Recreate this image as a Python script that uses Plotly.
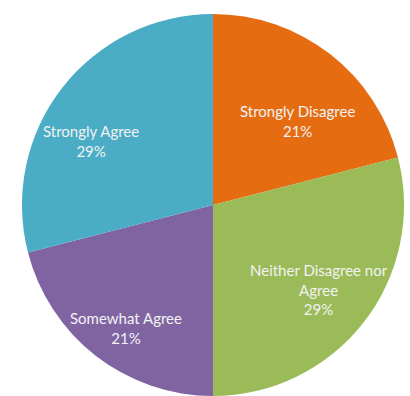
import plotly.graph_objects as go

# Survey responses, clockwise from 12 o'clock
categories = ["Strongly Disagree", "Neither Disagree nor Agree", "Somewhat Agree", "Strongly Agree"]
label_lines = ["Strongly Disagree", "Neither Disagree nor<br>Agree", "Somewhat Agree", "Strongly Agree"]
shares = [21, 29, 21, 29]
colors = ["#E66C12", "#9BBB59", "#8064A2", "#4BACC6"]

W, H = 410, 396
cx, cy, R = 213, 205, 191  # pie centre (px from left/top) and radius

# data-label centres (px from left/top), best-fit inside each slice
label_x = [297, 319, 126, 91]
label_y = [121, 289, 328, 141]


def clamp(v):
    return min(1.0, max(0.0, v))


fig = go.Figure(go.Pie(
    labels=categories,
    values=shares,
    sort=False,
    direction="clockwise",
    rotation=0,
    marker=dict(colors=colors, line=dict(width=0)),
    textinfo="none",
    hoverinfo="label+percent",
    showlegend=False,
    domain=dict(x=[clamp((cx - R) / W), clamp((cx + R) / W)],
                y=[clamp((H - cy - R) / H), clamp((H - cy + R) / H)]),
))

total = sum(shares)
annotations = []
for lab, v, lx, ly in zip(label_lines, shares, label_x, label_y):
    annotations.append(dict(
        x=lx / W, y=1 - ly / H, xref="paper", yref="paper",
        xanchor="center", yanchor="middle",
        text=f"{lab}<br>{round(v / total * 100)}%",
        showarrow=False, align="center",
        font=dict(family="Lato, Open Sans, sans-serif", size=15, color="#F2F2F2"),
    ))

fig.update_layout(
    width=W, height=H,
    margin=dict(l=0, r=0, t=0, b=0),
    paper_bgcolor="white",
    plot_bgcolor="white",
    annotations=annotations,
)

fig.write_html("out.html")
